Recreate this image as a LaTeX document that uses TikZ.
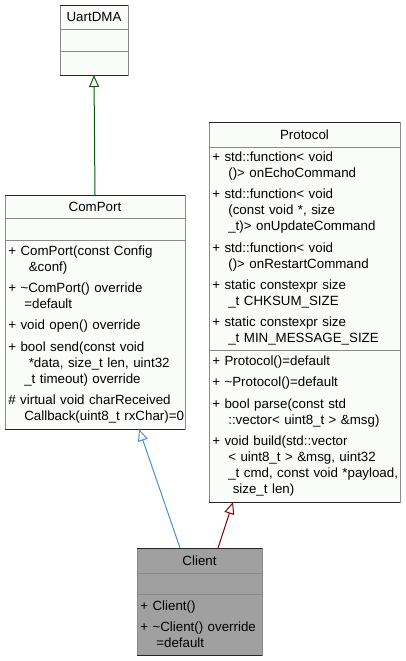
\documentclass[tikz,border=0pt]{standalone}
\usepackage{fontspec}
\setmainfont{Liberation Sans}
\definecolor{BoxFill}{HTML}{FAFCFA}
\definecolor{ClientFill}{HTML}{A0A0A0}
\definecolor{EdgeGray}{HTML}{8A8A8A}
\definecolor{DarkGreen}{HTML}{0A5A0A}
\definecolor{SteelBlue}{HTML}{4A90D0}
\definecolor{DarkRed}{HTML}{800000}
\usetikzlibrary{positioning,arrows.meta}
\def\ind{\hspace*{12pt}}
\hyphenpenalty=10000
\exhyphenpenalty=10000

\begin{document}
\begin{tikzpicture}
[x=0.75pt,y=-0.75pt,font=\fontsize{10}{12}\selectfont,
   part/.style={rectangle,draw=EdgeGray,fill=BoxFill,line width=0.75pt,
   inner xsep=2.5pt,inner ysep=0pt,outer sep=0pt,text=black},
   clsname/.style={part,align=center,text width=#1},
   clsbody/.style={part,align=left,text width=#1},
   rim/.style={black!85,line width=0.75pt},
   inh/.style={line width=0.75pt,-{Triangle[open,length=9pt,width=7.5pt]}}]
\useasboundingbox (0,0) rectangle (405,661);
%% UartDMA
\node[clsname=46pt,minimum height=18pt,anchor=north] (uartdma) at (94,5) {UartDMA};
\node[clsbody=46pt,minimum height=16.5pt,below=0pt of uartdma] (uartdma-attr) {};
\node[clsbody=46pt,minimum height=18pt,below=0pt of uartdma-attr] (uartdma-ops) {};
%% ComPort
\node[clsname=130pt,minimum height=17.25pt,anchor=north] (comport) at (95,195) {ComPort};
\node[clsbody=130pt,minimum height=16.5pt,below=0pt of comport] (comport-attr) {};
\node[clsbody=130pt,minimum height=141.75pt,below=0pt of comport-attr] (comport-ops)
{+ ComPort(const Config\\
\ind\ \&conf)\\[4pt]
+ \textasciitilde ComPort() override\\
\ind =default\\[4pt]
+ void open() override\\[4pt]
+ bool send(const void\\
\ind\ *data, size\_t len, uint32\\
\ind\_t timeout) override\\[4pt]
\# virtual void charReceived\\
\ind Callback(uint8\_t~rxChar)=0};
%% Protocol
\node[clsname=138.25pt,minimum height=18.75pt,anchor=north] (protocol) at (304.5,122) {Protocol};
\node[clsbody=138.25pt,minimum height=152.25pt,below=0pt of protocol] (protocol-attr)
{+ std::function< void\\
\ind ()> onEchoCommand\\[4pt]
+ std::function< void\\
\ind (const void *, size\\
\ind\_t)> onUpdateCommand\\[4pt]
+ std::function< void\\
\ind ()> onRestartCommand\\[4pt]
+ static constexpr size\\
\ind\_t CHKSUM\_SIZE\\[4pt]
+ static constexpr size\\
\ind\_t MIN\_MESSAGE\_SIZE};
\node[clsbody=138.25pt,minimum height=114pt,below=0pt of protocol-attr] (protocol-ops)
{+ Protocol()=default\\[4pt]
+ \textasciitilde Protocol()=default\\[4pt]
+ bool parse(const std\\
\ind ::vector< uint8\_t > \&msg)\\[4pt]
+ void build(std::vector\\
\ind < uint8\_t > \&msg, uint32\\
\ind\_t~cmd,~const~void~*payload,\\
\ind\ size\_t len)};
%% Client
\node[clsname=88.75pt,fill=ClientFill,minimum height=18.75pt,anchor=north] (client) at (199.5,548) {Client};
\node[clsbody=88.75pt,fill=ClientFill,minimum height=15.75pt,below=0pt of client] (client-attr) {};
\node[clsbody=88.75pt,fill=ClientFill,minimum height=45.75pt,below=0pt of client-attr] (client-ops)
{+ Client()\\[4pt]
+ \textasciitilde Client() override\\
\ind =default};
\foreach \c in {uartdma,comport,protocol,client}
   \draw[rim] (\c.north west) -- (\c.north east) (\c-ops.south west) -- (\c-ops.south east);
%% inheritance
\draw[inh,DarkGreen] (comport.north) -- (uartdma-ops.south);
\draw[inh,SteelBlue] ([xshift=-14.6pt]client.north) -- ([xshift=33pt]comport-ops.south);
\draw[inh,DarkRed] ([xshift=13.9pt]client.north) -- ([xshift=-53.6pt]protocol-ops.south);
\end{tikzpicture}
\end{document}
